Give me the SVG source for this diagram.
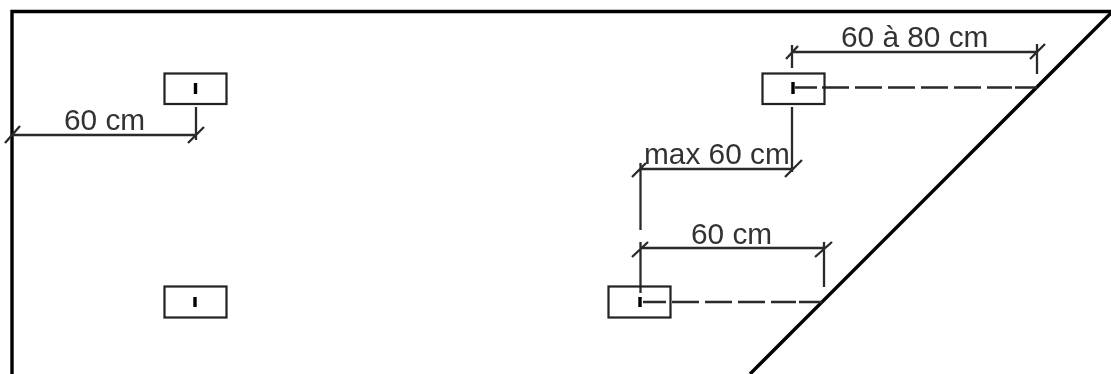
<svg xmlns="http://www.w3.org/2000/svg" width="1111" height="374" viewBox="0 0 1111 374">
<defs>
<style>
.wall{fill:none;stroke:#000;stroke-width:3.400}
.box{fill:none;stroke:#222;stroke-width:2.200}
.mark{fill:none;stroke:#000;stroke-width:3.400}
.dim{fill:none;stroke:#2a2a2a;stroke-width:2.300}
.dash{fill:none;stroke:#2a2a2a;stroke-width:2.300;stroke-dasharray:27 6}
.lbl{font-family:"Liberation Sans",Arial,sans-serif;font-size:29.800px;fill:#333}
</style>
<filter id="soft" x="-2%" y="-2%" width="104%" height="104%"><feGaussianBlur stdDeviation="0.7"/></filter>
</defs>
<rect width="1111" height="374" fill="#fff"/>
<g filter="url(#soft)">
<g id="walls">
<path class="wall" d="M12 374V11.500H1111"/>
<path class="wall" d="M1112 12L750 374"/>
</g>
<g id="connectors">
<path class="dim" d="M12 135H196M196 107V140M5 143L20 126M188 143L204 127"/>
<path class="dim" d="M792 52H1037M792 45V68M1037 44V74M786 59L798 46M1030 59L1045 44"/>
<path class="dim" d="M640 169H792M792 107V172M640.500 163V230M632 177L646 163M785 177L802 160"/>
<path class="dim" d="M640 248H824M640.500 242V293M824 242V287M632 257L648 242M815 257L832 242"/>
<path class="dim" d="M795 87.500H817M1015 87.500H1037"/>
<path class="dash" d="M822 87.500H1012"/>
<path class="dim" d="M643 302H666M799 302H822"/>
<path class="dash" d="M672 302H796"/>
</g>
<g id="node-top-left">
<rect class="box" x="164.500" y="73.500" width="62" height="30.500"/>
<path class="mark" d="M195.500 83V94"/>
</g>
<g id="node-bottom-left">
<rect class="box" x="164.500" y="286.500" width="62" height="31"/>
<path class="mark" d="M195 297V307"/>
</g>
<g id="node-top-right">
<rect class="box" x="762.500" y="73.500" width="62" height="30.500"/>
<path class="mark" d="M793 82V94"/>
</g>
<g id="node-bottom-right">
<rect class="box" x="608.500" y="286.500" width="62" height="31"/>
<path class="mark" d="M640 297V307"/>
</g>
<g id="labels">
<text class="lbl" x="64" y="130">60 cm</text>
<text class="lbl" x="841" y="47">60 à 80 cm</text>
<text class="lbl" x="644" y="164">max 60 cm</text>
<text class="lbl" x="691" y="244">60 cm</text>
</g>
</g>
</svg>
